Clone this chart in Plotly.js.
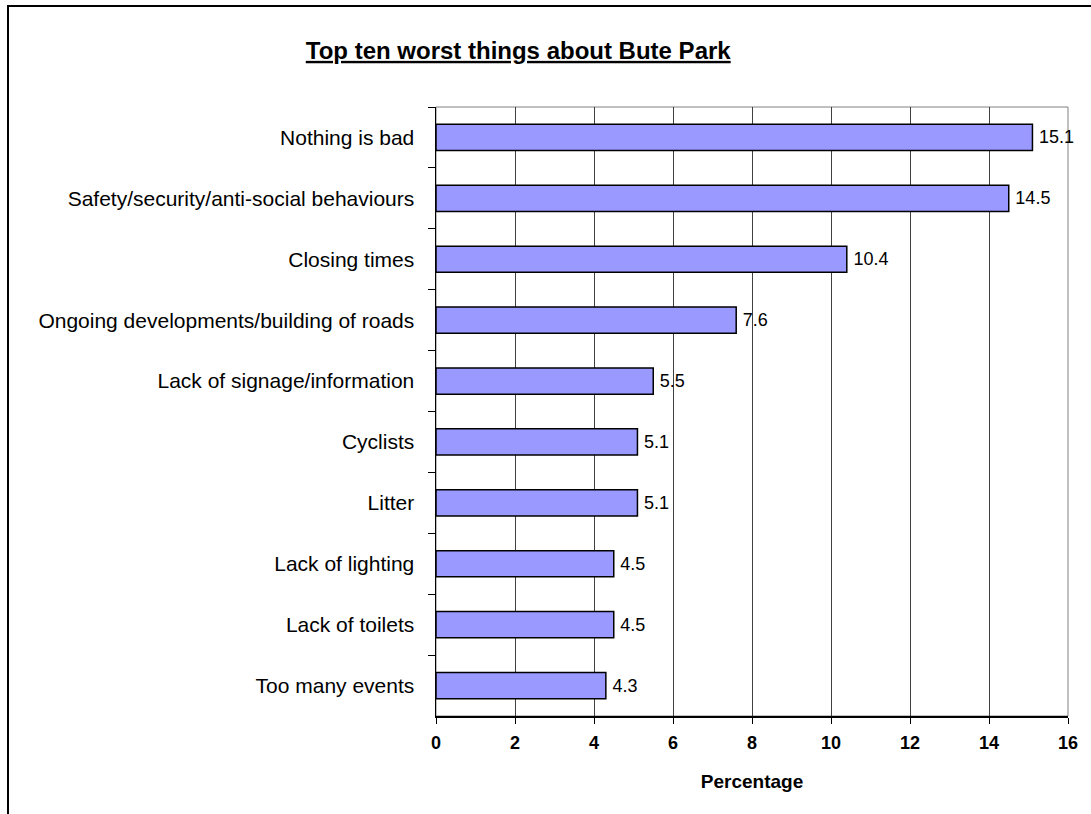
<!DOCTYPE html>
<html>
<head>
<meta charset="utf-8">
<script src="https://cdn.plot.ly/plotly-3.0.1.min.js"></script>
<style>
html,body{margin:0;padding:0;overflow:hidden;background:#fff;}
#chart{width:1091px;height:814px;}
#frame{position:absolute;left:7px;top:5px;width:1300px;height:1100px;border:2px solid #000;pointer-events:none;}
</style>
</head>
<body>
<div id="chart"></div>
<div id="frame"></div>
<script>
const categories = [
  "Nothing is bad",
  "Safety/security/anti-social behaviours",
  "Closing times",
  "Ongoing developments/building of roads",
  "Lack of signage/information",
  "Cyclists",
  "Litter",
  "Lack of lighting",
  "Lack of toilets",
  "Too many events"
];
const percentages = [15.1, 14.5, 10.4, 7.6, 5.5, 5.1, 5.1, 4.5, 4.5, 4.3];
const xTickValues = [0, 2, 4, 6, 8, 10, 12, 14, 16];

const font = "Liberation Sans, Arial, sans-serif";

const trace = {
  type: 'bar',
  orientation: 'h',
  y: categories,
  x: percentages,
  text: percentages.map(v => '\u2009' + v.toFixed(1)),
  textposition: 'outside',
  constraintext: 'none',
  cliponaxis: false,
  textfont: {family: font, size: 18, color: '#000'},
  width: 0.43,
  marker: {color: '#9999FF', line: {color: '#000', width: 1.5}},
  hoverinfo: 'none'
};

const layout = {
  width: 1091,
  height: 814,
  margin: {l: 436, r: 23, t: 107, b: 98},
  paper_bgcolor: '#fff',
  plot_bgcolor: '#fff',
  showlegend: false,
  font: {family: font, color: '#000'},
  title: {
    text: '<u>Top ten worst things about Bute Park</u>',
    font: {family: font, size: 24, color: '#000', weight: 'bold'},
    xref: 'container', x: 0.475, xanchor: 'center',
    yref: 'container', y: 0.938, yanchor: 'middle'
  },
  xaxis: {
    range: [0, 16],
    tickvals: xTickValues,
    ticktext: xTickValues.map(String),
    showgrid: true,
    gridcolor: '#404040',
    gridwidth: 1,
    zeroline: false,
    showline: true,
    linecolor: '#000',
    linewidth: 1.5,
    ticks: 'outside',
    ticklen: 6,
    tickcolor: '#000',
    ticklabelstandoff: 4,
    tickfont: {family: font, size: 18, color: '#000', weight: 'bold'},
    title: {text: 'Percentage', font: {family: font, size: 19, color: '#000', weight: 'bold'}, standoff: 22},
    fixedrange: true
  },
  yaxis: {
    type: 'category',
    autorange: 'reversed',
    showgrid: false,
    zeroline: false,
    showline: true,
    linecolor: '#000',
    linewidth: 1.5,
    ticks: 'outside',
    tickson: 'boundaries',
    ticklen: 7,
    tickcolor: '#000',
    ticklabelstandoff: 16,
    tickfont: {family: font, size: 21, color: '#000'},
    fixedrange: true
  },
  shapes: [
    {type: 'rect', xref: 'paper', yref: 'paper', x0: 0, x1: 1, y0: 0, y1: 1,
     line: {color: '#808080', width: 1}, layer: 'below'}
  ]
};

Plotly.newPlot('chart', [trace], layout, {displayModeBar: false, staticPlot: true});
</script>
</body>
</html>
